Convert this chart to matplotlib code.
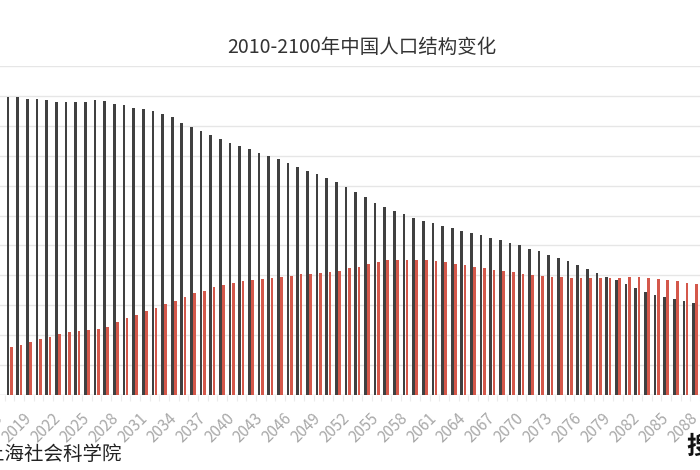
import matplotlib
matplotlib.use("Agg")
import matplotlib.pyplot as plt
import numpy as np

plt.rcParams['font.family'] = ['Noto Sans CJK SC', 'DejaVu Sans']

years = list(range(2017, 2089))
working_age = [
    9.98, 9.96, 9.91, 9.88, 9.86, 9.81, 9.79, 9.80, 9.80, 9.86,
    9.83, 9.72, 9.69, 9.61, 9.57, 9.51, 9.40, 9.29, 9.11, 8.97,
    8.84, 8.69, 8.56, 8.44, 8.32, 8.22, 8.10, 7.98, 7.88, 7.76,
    7.63, 7.50, 7.38, 7.27, 7.11, 6.95, 6.80, 6.62, 6.42, 6.29,
    6.16, 6.04, 5.93, 5.83, 5.74, 5.66, 5.59, 5.50, 5.42, 5.34,
    5.26, 5.18, 5.09, 5.01, 4.89, 4.81, 4.67, 4.58, 4.48, 4.35,
    4.21, 4.09, 3.96, 3.85, 3.70, 3.57, 3.46, 3.36, 3.28, 3.22,
    3.15, 3.09,
]
elderly = [
    1.60, 1.68, 1.77, 1.86, 1.93, 2.04, 2.10, 2.14, 2.17, 2.21,
    2.28, 2.44, 2.57, 2.68, 2.81, 2.90, 3.03, 3.15, 3.29, 3.40,
    3.49, 3.60, 3.68, 3.75, 3.81, 3.84, 3.88, 3.92, 3.95, 3.98,
    4.03, 4.06, 4.08, 4.11, 4.16, 4.26, 4.29, 4.37, 4.46, 4.50,
    4.51, 4.52, 4.51, 4.50, 4.47, 4.44, 4.39, 4.34, 4.29, 4.24,
    4.19, 4.13, 4.10, 4.05, 4.01, 3.98, 3.95, 3.93, 3.90, 3.90,
    3.90, 3.90, 3.91, 3.91, 3.93, 3.93, 3.90, 3.87, 3.85, 3.80,
    3.74, 3.70,
]
label_years = list(range(2016, 2089, 3))
title = "2010-2100年中国人口结构变化"
source = "上海社会科学院"

W, H = 700, 470
fig = plt.figure(figsize=(W / 100, H / 100), dpi=100)
fig.patch.set_facecolor('white')

ax_bottom = 395
ax_top = 66
ax = fig.add_axes([0, (H - ax_bottom) / H, 1, (ax_bottom - ax_top) / H])

idx = np.arange(len(years))
bw = 0.28
off = 0.168
ax.bar(idx - off, working_age, width=bw, color='#404040', zorder=3)
ax.bar(idx + off, elderly, width=bw, color='#d4584b', zorder=3)

ax.set_ylim(0, 11)
ax.set_yticks(np.arange(0, 12, 1))
ax.yaxis.grid(True, color='#e6e6e6', linewidth=1.0, zorder=0)
ax.tick_params(axis='y', left=False, labelleft=False)

ax.set_xlim(-1.12 / 9.834, (700 - 1.12) / 9.834)
lab_idx = [y - years[0] for y in label_years]
ax.set_xticks(lab_idx)
ax.set_xticklabels([str(y) for y in label_years], rotation=45, ha='right',
                   va='center', rotation_mode='anchor', color='#a8a8a8',
                   fontsize=11)
ax.set_xticks(np.arange(-0.5, len(years) + 0.5, 1), minor=True)
ax.tick_params(axis='x', which='major', length=0, pad=15)
ax.tick_params(axis='x', which='minor', length=4, color='#ececec', width=0.8)

for s in ax.spines.values():
    s.set_visible(False)
ax.axhline(0, color='#e0e0e0', linewidth=1, zorder=1)

fig.text(362 / W, 1 - 47 / H, title, ha='center', va='center',
         fontsize=14, color='#333333')
fig.text(-15 / W, 1 - 455 / H, source, ha='left', va='center',
         fontsize=14, color='#222222')
fig.text(686 / W, 1 - 447 / H, "搜狐", ha='left', va='center',
         fontsize=18, color='#111111', fontweight='bold')

fig.savefig('out.png', dpi=100, facecolor='white')
